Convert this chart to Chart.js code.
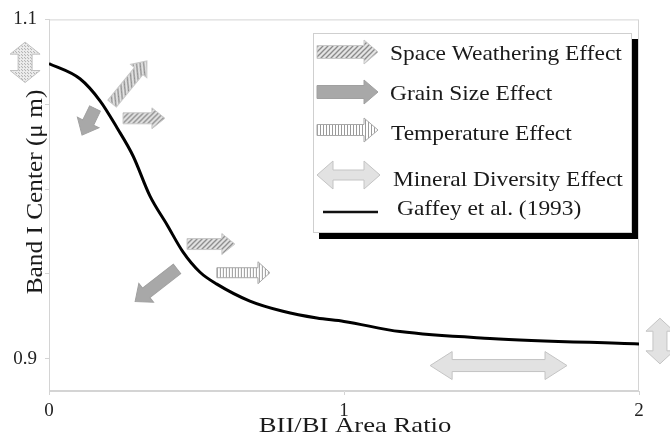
<!DOCTYPE html>
<html>
<head>
<meta charset="utf-8">
<script src="https://cdn.jsdelivr.net/npm/chart.js@4/dist/chart.umd.min.js"></script>
<style>
  html, body { margin: 0; padding: 0; background: #fff; }
  #wrap { width: 670px; height: 440px; }
</style>
</head>
<body>
<div id="wrap"><canvas id="chart" width="670" height="440"></canvas></div>
<script>
// curve (Gaffey et al. 1993)
const ratio = [0, 0.105, 0.173, 0.231, 0.285, 0.342, 0.40, 0.454, 0.512, 0.569, 0.681, 0.793, 0.908, 1.0, 1.19, 1.495, 2.0];
const bandCenter = [1.074, 1.065, 1.052, 1.036, 1.0195, 0.996, 0.979, 0.963, 0.951, 0.944, 0.934, 0.928, 0.924, 0.922, 0.916, 0.912, 0.9087];

const xTicks = [0, 1, 2];
const yTicks = [0.9, 0.95, 1.0, 1.05, 1.1];
const yLabeled = [0.9, 1.1];

const legendNames = ['Space Weathering Effect', 'Grain Size Effect', 'Temperature Effect', 'Mineral Diversity Effect', 'Gaffey et al. (1993)'];

// effect arrows in data units: kind, from [x,y], to [x,y]
const arrowKind = ['stipple2', 'weather', 'grain', 'weather', 'weather', 'grain', 'temp', 'mineral', 'mineral2'];
const arrowFrom = [[-0.081, 1.0866], [0.214, 1.0504], [0.156, 1.0475], [0.251, 1.0417], [0.468, 0.9676], [0.434, 0.953], [0.569, 0.9507], [1.292, 0.896], [2.071, 0.9239]];
const arrowTo   = [[-0.081, 1.0628], [0.332, 1.0755], [0.112, 1.0318], [0.393, 1.0417], [0.63, 0.9676], [0.292, 0.9338], [0.749, 0.9507], [1.756, 0.896], [2.071, 0.897]];

const serif = '"Liberation Serif", "DejaVu Serif", serif';

function makePattern(ctx, kind) {
  const c = document.createElement('canvas');
  const g = c.getContext('2d');
  if (kind == 'hatch') {
    c.width = 5; c.height = 5;
    g.fillStyle = '#e4e4e4'; g.fillRect(0, 0, 5, 5);
    g.strokeStyle = '#8a8a8a'; g.lineWidth = 1.3;
    g.beginPath(); g.moveTo(-1, 6); g.lineTo(6, -1); g.stroke();
    g.beginPath(); g.moveTo(-1, 1); g.lineTo(1, -1); g.stroke();
    g.beginPath(); g.moveTo(4, 6); g.lineTo(6, 4); g.stroke();
  } else if (kind == 'stripe') {
    c.width = 3; c.height = 3;
    g.fillStyle = '#ffffff'; g.fillRect(0, 0, 3, 3);
    g.fillStyle = '#9a9a9a'; g.fillRect(0, 0, 1, 3);
  } else {
    c.width = 3; c.height = 3;
    g.fillStyle = '#eeeeee'; g.fillRect(0, 0, 3, 3);
    g.fillStyle = '#a5a5a5'; g.fillRect(0, 0, 1, 1); g.fillRect(1, 2, 1, 1);
  }
  return ctx.createPattern(c, 'repeat');
}

function arrowStyle(ctx, kind) {
  if (kind == 'weather') return {fill: makePattern(ctx, 'hatch'), stroke: '#c8c8c8', shaft: 11, head: 21, hl: 13, dbl: false};
  if (kind == 'grain') return {fill: '#a8a8a8', stroke: '#a0a0a0', shaft: 12, head: 24, hl: 14, dbl: false};
  if (kind == 'temp') return {fill: makePattern(ctx, 'stripe'), stroke: '#a8a8a8', shaft: 10, head: 22, hl: 12, dbl: false};
  if (kind == 'mineral') return {fill: '#e2e2e2', stroke: '#c4c4c4', shaft: 12, head: 28, hl: 22, dbl: true};
  if (kind == 'mineral2') return {fill: '#e2e2e2', stroke: '#c4c4c4', shaft: 14, head: 28, hl: 13, dbl: true};
  return {fill: makePattern(ctx, 'dots'), stroke: '#c0c0c0', shaft: 14, head: 30, hl: 12, dbl: true};
}

function drawArrow(ctx, x1, y1, x2, y2, st) {
  const L = Math.hypot(x2 - x1, y2 - y1);
  const a = Math.atan2(y2 - y1, x2 - x1);
  const s = st.shaft / 2, h = st.head / 2, hl = st.hl;
  ctx.save();
  ctx.translate(x1, y1);
  ctx.rotate(a);
  ctx.beginPath();
  if (st.dbl) {
    ctx.moveTo(0, 0);
    ctx.lineTo(hl, -h); ctx.lineTo(hl, -s);
  } else {
    ctx.moveTo(0, -s);
  }
  ctx.lineTo(L - hl, -s); ctx.lineTo(L - hl, -h); ctx.lineTo(L, 0);
  ctx.lineTo(L - hl, h); ctx.lineTo(L - hl, s);
  if (st.dbl) {
    ctx.lineTo(hl, s); ctx.lineTo(hl, h);
  } else {
    ctx.lineTo(0, s);
  }
  ctx.closePath();
  ctx.fillStyle = st.fill;
  ctx.fill();
  ctx.strokeStyle = st.stroke;
  ctx.lineWidth = 1;
  ctx.stroke();
  ctx.restore();
}

// text a bit wider than the font, like the scanned figure
function wideText(ctx, txt, x, y, sx) {
  ctx.save();
  ctx.translate(x, y);
  ctx.scale(sx, 1);
  ctx.fillText(txt, 0, 0);
  ctx.restore();
}

const extras = {
  id: 'extras',
  beforeDatasetsDraw(chart) {
    const {ctx, chartArea: ca} = chart;
    ctx.save();
    ctx.strokeStyle = '#d4d4d4';
    ctx.lineWidth = 1;
    ctx.strokeRect(ca.left + 0.5, ca.top + 0.5, ca.right - ca.left - 1, ca.bottom - ca.top - 1);
    ctx.restore();
  },
  afterDatasetsDraw(chart) {
    const {ctx, scales} = chart;
    const xs = scales.x, ys = scales.y;
    // effect arrows
    for (let i = 0; i < arrowKind.length; i++) {
      drawArrow(ctx,
        xs.getPixelForValue(arrowFrom[i][0]), ys.getPixelForValue(arrowFrom[i][1]),
        xs.getPixelForValue(arrowTo[i][0]), ys.getPixelForValue(arrowTo[i][1]),
        arrowStyle(ctx, arrowKind[i]));
    }

    // legend box with black shadow
    const bx = 313, by = 33, bw = 319, bh = 200;
    ctx.save();
    ctx.fillStyle = '#000';
    ctx.fillRect(bx + 6, by + 6, bw, bh);
    ctx.fillStyle = '#fff';
    ctx.fillRect(bx, by, bw, bh);
    ctx.strokeStyle = '#cfcfcf';
    ctx.strokeRect(bx + 0.5, by + 0.5, bw - 1, bh - 1);

    const rows = [52, 92, 130, 175, 212];
    const baseY = [60, 100, 140, 186, 215];
    const textX = [390, 390, 391, 393, 397];
    const kinds = ['weather', 'grain', 'temp', 'mineralL', 'line'];
    for (let i = 0; i < rows.length; i++) {
      const y = rows[i];
      if (kinds[i] == 'line') {
        ctx.strokeStyle = '#111'; ctx.lineWidth = 2.5;
        ctx.beginPath(); ctx.moveTo(323, y); ctx.lineTo(378, y); ctx.stroke();
      } else if (kinds[i] == 'mineralL') {
        drawArrow(ctx, 317, y, 380, y, {fill: '#e2e2e2', stroke: '#c4c4c4', shaft: 10, head: 28, hl: 16, dbl: true});
      } else {
        const st = arrowStyle(ctx, kinds[i]);
        st.shaft = kinds[i] == 'temp' ? 11 : 13; st.head = 24; st.hl = 14;
        drawArrow(ctx, 317, y, 378, y, st);
      }
      ctx.fillStyle = '#1a1a1a';
      ctx.font = '22px ' + serif;
      ctx.textBaseline = 'alphabetic';
      ctx.textAlign = 'left';
      wideText(ctx, legendNames[i], textX[i], baseY[i], 1.065);
    }

    // axis titles
    ctx.fillStyle = '#1a1a1a';
    ctx.font = '21px ' + serif;
    ctx.textAlign = 'center';
    ctx.textBaseline = 'alphabetic';
    wideText(ctx, 'BII/BI Area Ratio', 355, 432, 1.27);
    ctx.font = '23px ' + serif;
    ctx.translate(42, 192);
    ctx.rotate(-Math.PI / 2);
    wideText(ctx, 'Band I Center (\u03bc m)', 0, 0, 1.1);
    ctx.restore();
  }
};

const ctx = document.getElementById('chart').getContext('2d');
const grafico = new Chart(ctx, {
  type: 'scatter',
  data: {
    datasets: [{
      label: legendNames[4],
      data: ratio.map((r, i) => ({x: r, y: bandCenter[i]})),
      showLine: true,
      borderColor: '#000',
      borderWidth: 3,
      pointRadius: 0,
      cubicInterpolationMode: 'monotone'
    }]
  },
  options: {
    responsive: false,
    animation: false,
    layout: { padding: { top: 15, right: 31, left: 0, bottom: 0 } },
    plugins: { legend: { display: false }, tooltip: { enabled: false } },
    scales: {
      x: {
        type: 'linear', min: 0, max: 2,
        afterBuildTicks: (s) => { s.ticks = xTicks.map(v => ({value: v})); },
        afterFit: (s) => { s.height = 49; },
        ticks: { font: { family: serif, size: 19 }, color: '#222', padding: 5 },
        grid: { drawOnChartArea: false, tickLength: 4, color: '#d4d4d4' },
        border: { color: '#d4d4d4' }
      },
      y: {
        type: 'linear', min: 0.881, max: 1.1,
        afterBuildTicks: (s) => { s.ticks = yTicks.map(v => ({value: v})); },
        afterFit: (s) => { s.width = 49; },
        ticks: {
          font: { family: serif, size: 19 }, color: '#222', padding: 8,
          callback: (v) => yLabeled.some(t => Math.abs(t - v) < 1e-6) ? v.toFixed(1) : ''
        },
        grid: { drawOnChartArea: false, tickLength: 4, color: '#d4d4d4' },
        border: { color: '#d4d4d4' }
      }
    }
  },
  plugins: [extras]
});
</script>
</body>
</html>
